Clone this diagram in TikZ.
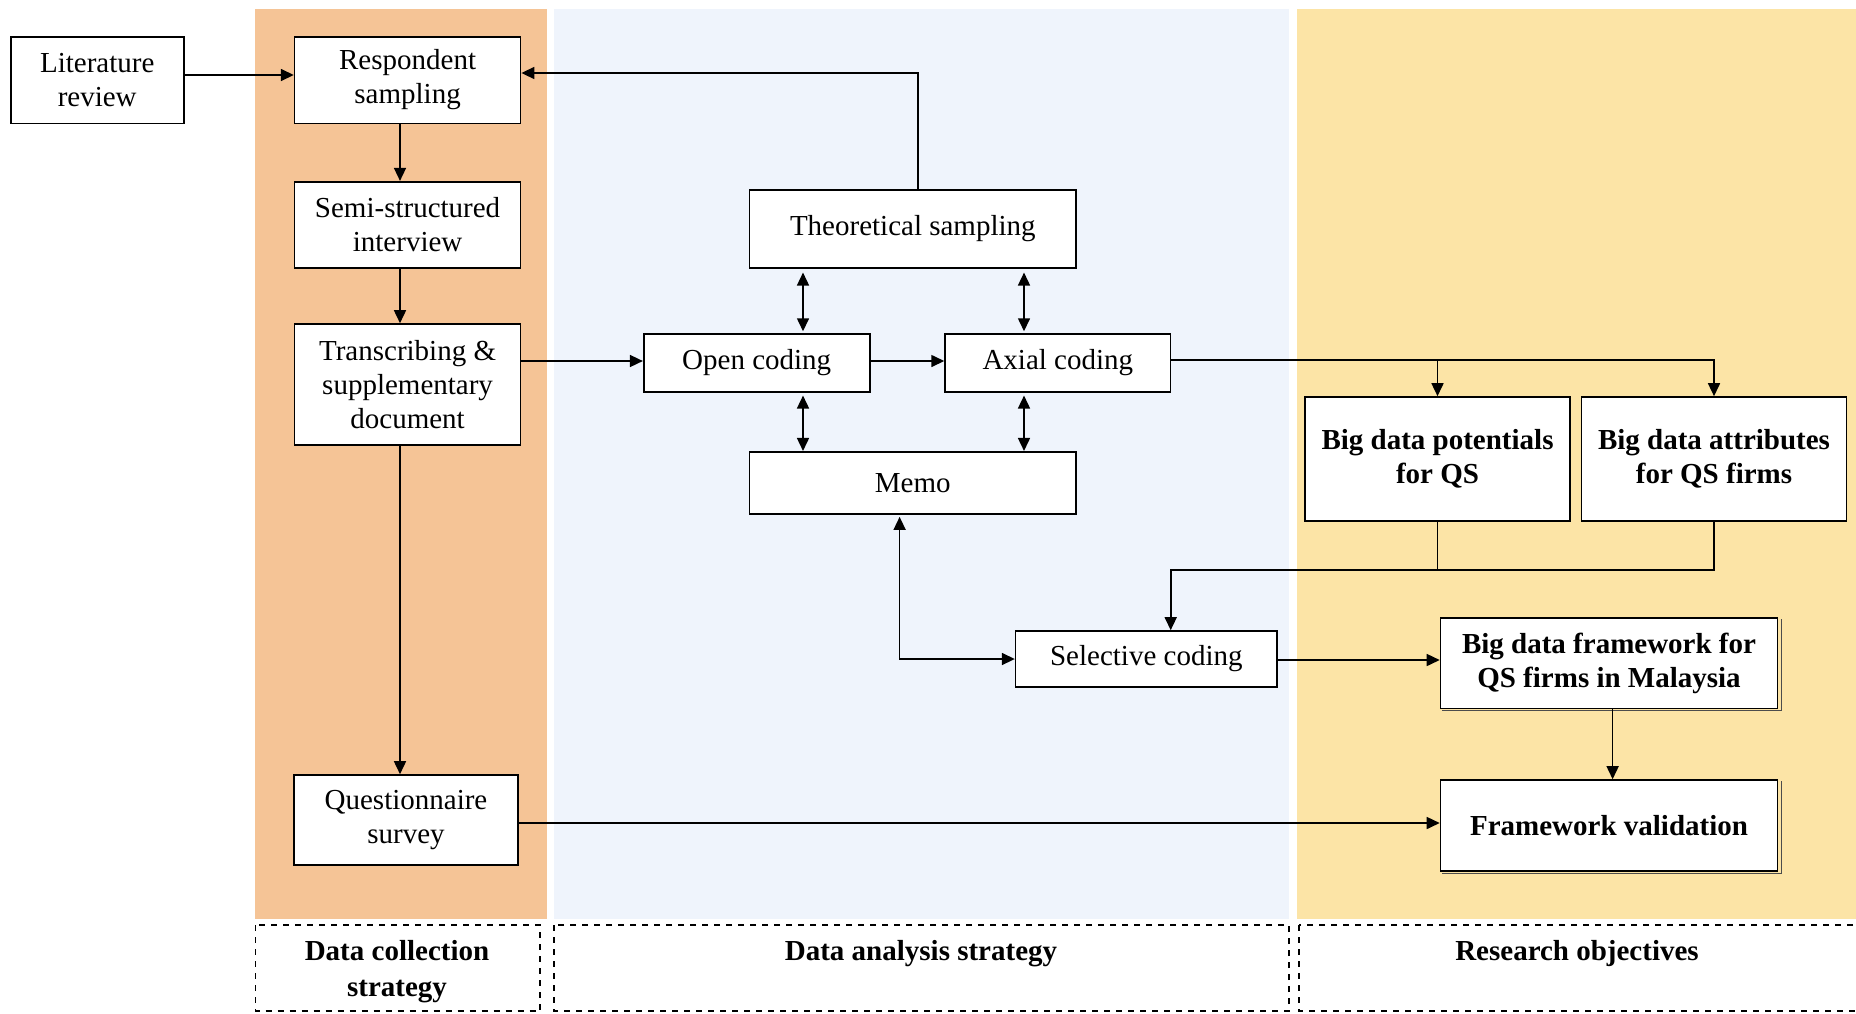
\documentclass[tikz,border=0pt]{standalone}
\usepackage{fontspec}
\setmainfont{Liberation Serif}
\usetikzlibrary{arrows.meta}
\definecolor{orangebg}{RGB}{245,196,150}
\definecolor{bluebg}{RGB}{239,244,252}
\definecolor{yellowbg}{RGB}{252,228,166}
\begin{document}
\begin{tikzpicture}[x=0.5pt,y=-0.5pt,
 box/.style={draw=black, line width=0.8pt, fill=white, align=center, inner sep=0pt, font=\fontsize{14.5}{17}\selectfont},
 boldbox/.style={box, font=\fontsize{14.5}{17}\selectfont\bfseries},
 arr/.style={line width=0.8pt, -{Triangle[length=6.5pt,width=6pt]}},
 darr/.style={line width=0.8pt, {Triangle[length=6.5pt,width=6pt]}-{Triangle[length=6.5pt,width=6pt]}},
 conn/.style={line width=0.8pt},
 lbl/.style={draw=black, dashed, line width=0.6pt},
 lbltext/.style={font=\fontsize{14.5}{18}\selectfont\bfseries, align=center, inner sep=0pt, anchor=north}]
\useasboundingbox (0,0) rectangle (1856,1013);
% panels
\fill[orangebg] (254.5,9.3) rectangle (547,919);
\fill[bluebg] (554,9.3) rectangle (1289,919);
\fill[yellowbg] (1297,9.3) rectangle (1860,919);
\draw[lbl] (255.5,925) rectangle (540,1011);
\draw[lbl] (554,925) rectangle (1289,1011);
\draw[lbl] (1299,925) rectangle (1862,1011);
% nodes
\node[box, minimum width=86.5pt, minimum height=43.3pt] (lit) at (97.2,80) {Literature\\review};
\node[box, minimum width=113pt, minimum height=43.3pt] (resp) at (407.6,80) {Respondent\\sampling};
\node[box, minimum width=113pt, minimum height=43pt] (semi) at (407.6,224.7) {Semi-structured\\interview};
\node[box, minimum width=113pt, minimum height=60.5pt] (trans) at (407.6,384.5) {Transcribing \&\\supplementary\\document};
\node[box, minimum width=112.2pt, minimum height=45pt] (quest) at (406,820) {Questionnaire\\survey};
\node[box, minimum width=163.2pt, minimum height=38.85pt] (theo) at (912.8,228.9) {Theoretical sampling};
\node[box, minimum width=113pt, minimum height=28.85pt] (open) at (756.7,362.9) {Open coding};
\node[box, minimum width=112.75pt, minimum height=28.85pt] (axial) at (1057.8,362.9) {Axial coding};
\node[box, minimum width=163.2pt, minimum height=31.15pt] (memo) at (912.8,482.9) {Memo};
\node[box, minimum width=130.7pt, minimum height=28pt] (sel) at (1146.3,659) {Selective coding};
\node[boldbox, minimum width=132.5pt, minimum height=62pt] (pot) at (1437.5,459) {Big data potentials\\for QS};
\node[boldbox, minimum width=132.4pt, minimum height=62pt] (attr) at (1714,459) {Big data attributes\\for QS firms};
\node[boldbox, minimum width=168.5pt, minimum height=45.3pt] (frame) at (1609,663.3) {Big data framework for\\QS firms in Malaysia};
\node[boldbox, minimum width=168.5pt, minimum height=45.5pt] (valid) at (1609,825.5) {Framework validation};
% shadow edges
\draw[line width=0.6pt, black!70] ([xshift=1.6pt,yshift=-1pt]frame.north east) -- ([xshift=1.6pt,yshift=-0.7pt]frame.south east) -- ([xshift=1pt,yshift=-0.7pt]frame.south west);
\draw[line width=0.6pt, black!70] ([xshift=1.6pt,yshift=-1pt]valid.north east) -- ([xshift=1.6pt,yshift=-0.7pt]valid.south east) -- ([xshift=1pt,yshift=-0.7pt]valid.south west);
% connectors
\draw[arr] (lit.east |- 0,75) -- (resp.west |- 0,75);
\draw[arr] (resp.south -| 400,0) -- (semi.north -| 400,0);
\draw[arr] (semi.south -| 400,0) -- (trans.north -| 400,0);
\draw[arr] (trans.south -| 400,0) -- (quest.north -| 400,0);
\draw[arr] (trans.east |- 0,361) -- (open.west |- 0,361);
\draw[arr] (open.east |- 0,361) -- (axial.west |- 0,361);
\draw[arr] (theo.north -| 918,0) |- (resp.east |- 0,73);
\draw[darr, shorten <=2pt, shorten >=1pt] (theo.south -| 803,0) -- (open.north -| 803,0);
\draw[darr, shorten <=2pt, shorten >=1pt] (theo.south -| 1024,0) -- (axial.north -| 1024,0);
\draw[darr, shorten <=1.5pt] (open.south -| 803,0) -- (memo.north -| 803,0);
\draw[darr, shorten <=1.5pt] (axial.south -| 1024,0) -- (memo.north -| 1024,0);
\draw[darr, shorten <=1pt] (memo.south -| 899.6,0) |- (sel.west);
\coordinate (j1) at (pot.north |- 0,360);
\draw[arr] (axial.east |- 0,360) -| (attr.north);
\draw[arr] (j1) -- (pot.north);
\coordinate (m) at (1170.7,570);
\draw[conn] (pot.south) -- (pot.south |- m);
\draw[arr] (attr.south) |- (m) -- (m |- sel.north);
\draw[arr] (sel.east |- 0,660) -- (frame.west |- 0,660);
\draw[arr] (frame.south -| 1612.6,0) -- (valid.north -| 1612.6,0);
\draw[arr] (quest.east |- 0,823) -- (valid.west |- 0,823);
% labels
\node[lbltext] (l1) at (397,940) {Data collection\\strategy};
\node[lbltext] (l2) at (921,940) {Data analysis strategy};
\node[lbltext] (l3) at (1577,940) {Research objectives};
\end{tikzpicture}
\end{document}
